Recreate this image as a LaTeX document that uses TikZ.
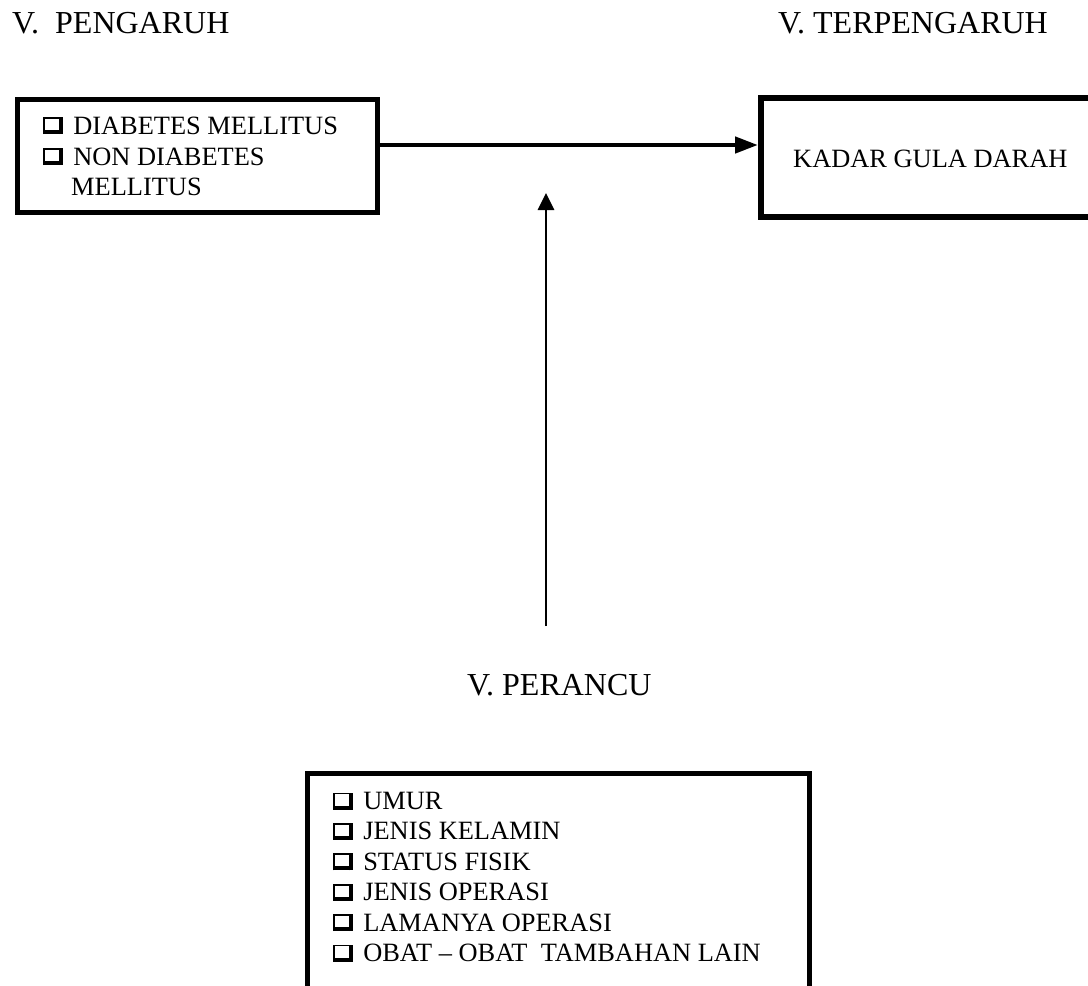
\documentclass[tikz,border=0pt]{standalone}
\usepackage{fontspec}
\setmainfont{Liberation Serif}
\usetikzlibrary{arrows.meta}
\newcommand\chkbx{\hbox{\vrule width .07em\vbox to .64em{\hrule height .07em width .52em\vfil\hrule height .15em width .52em}\vrule width .15em}\hspace{.4em}}
\begin{document}
\begin{tikzpicture}[x=1pt,y=-1pt,
  boxshape/.style={draw, rectangle, inner sep=0pt},
  bodytext/.style={anchor=base west, inner sep=0pt, font=\fontsize{26.4}{30}\selectfont},
  titletext/.style={anchor=base west, inner sep=0pt, font=\fontsize{32}{36}\selectfont},
  conn/.style={draw, line width=4.5pt, -{Triangle[length=23pt,width=16pt]}},
  connv/.style={draw, line width=2.8pt, -{Triangle[length=17pt,width=16pt]}}]
\useasboundingbox (0,0) rectangle (1088,986);
% boxes
\node[boxshape, line width=5pt, minimum width=360pt, minimum height=113pt] (lbox) at (197.5,156) {};
\node[boxshape, line width=6pt, minimum width=349pt, minimum height=119pt] (rbox) at (935.5,157.5) {};
\node[boxshape, line width=5pt, minimum width=502pt, minimum height=236.5pt] (bbox) at (558.5,891.75) {};
% titles
\node[titletext] (t1) at (12,33) {V.~~PENGARUH};
\node[titletext] (t2) at (778,33) {V. TERPENGARUH};
\node[titletext] (t3) at (467,695) {V. PERANCU};
% box texts
\node[bodytext] (l1) at (43,134) {\chkbx DIABETES MELLITUS};
\node[bodytext] (l2) at (43,165) {\chkbx NON DIABETES};
\node[bodytext] (l3) at (71,195) {MELLITUS};
\node[bodytext] (r1) at (793,167) {KADAR GULA DARAH};
\node[bodytext] (b1) at (333,809.5) {\chkbx UMUR};
\node[bodytext] (b2) at (333,839.9) {\chkbx JENIS KELAMIN};
\node[bodytext] (b3) at (333,870.3) {\chkbx STATUS FISIK};
\node[bodytext] (b4) at (333,900.7) {\chkbx JENIS OPERASI};
\node[bodytext] (b5) at (333,931.1) {\chkbx LAMANYA OPERASI};
\node[bodytext] (b6) at (333,961.5) {\chkbx OBAT -- OBAT~~TAMBAHAN LAIN};
% connectors
\coordinate (hy) at (0,145);
\draw[conn] (lbox.east |- hy) -- (rbox.west |- hy);
\coordinate (vb) at (546,626);
\coordinate (vt) at (546,193);
\draw[connv] (vb) -- (vt);
\end{tikzpicture}
\end{document}
